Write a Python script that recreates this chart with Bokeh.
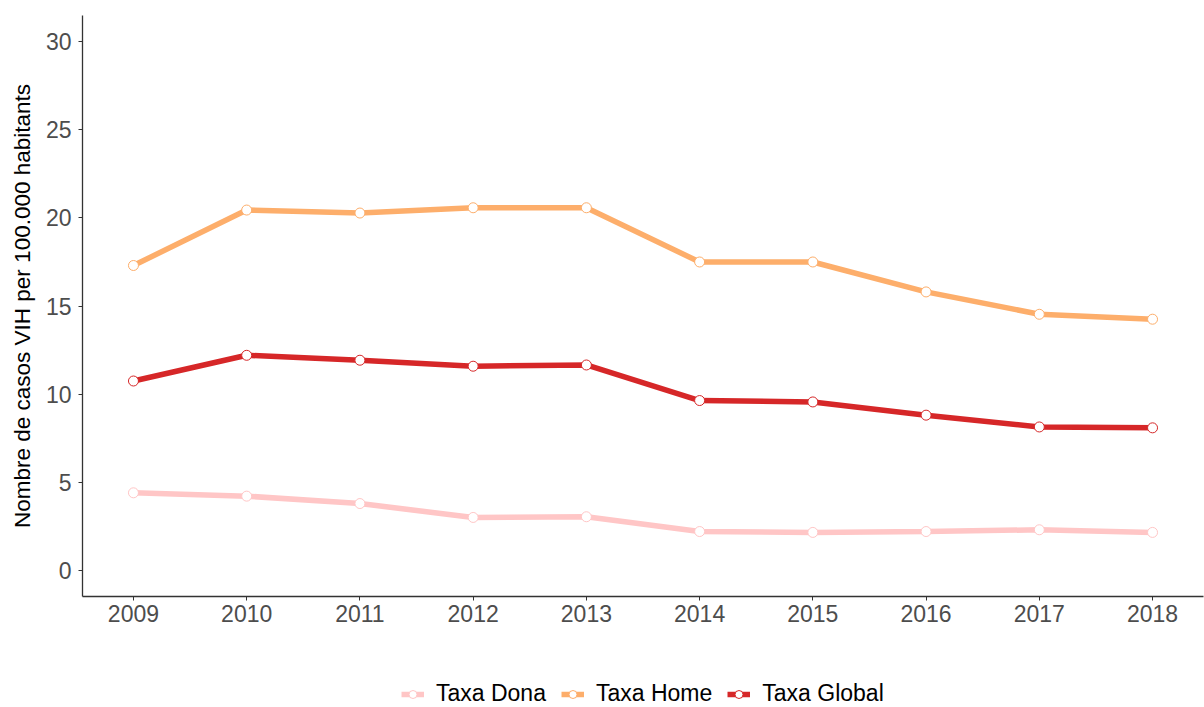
from bokeh.plotting import figure
from bokeh.models import Range1d, FixedTicker, Legend, LegendItem
from bokeh.layouts import column
from bokeh.embed import file_html
from bokeh.resources import INLINE

years = [2009, 2010, 2011, 2012, 2013, 2014, 2015, 2016, 2017, 2018]
taxa_dona = [4.39, 4.20, 3.78, 2.99, 3.03, 2.19, 2.14, 2.19, 2.29, 2.14]
taxa_home = [17.30, 20.45, 20.28, 20.58, 20.58, 17.50, 17.50, 15.80, 14.53, 14.25]
taxa_global = [10.74, 12.20, 11.92, 11.58, 11.65, 9.63, 9.55, 8.80, 8.13, 8.08]
y_ticks = [0, 5, 10, 15, 20, 25, 30]
series_names = ["Taxa Dona", "Taxa Home", "Taxa Global"]
colors = ["#FFC6C6", "#FDAE6B", "#D62728"]

FONT = "Liberation Sans"
LW = 5.5
MS = 10

p = figure(width=1204, height=679, output_backend="svg", toolbar_location=None,
           x_range=Range1d(2008.55, 2018.45), y_range=Range1d(-1.5, 31.5),
           min_border_left=82, min_border_top=15, min_border_right=1,
           min_border_bottom=83)
p.outline_line_color = None
p.xgrid.grid_line_color = None
p.ygrid.grid_line_color = None
p.background_fill_color = "white"

series = [taxa_dona, taxa_home, taxa_global]
for name, vals, col in zip(series_names, series, colors):
    p.line(years, vals, line_color=col, line_width=LW)
    p.scatter(years, vals, size=MS, fill_color="white", line_color=col, line_width=1)

for ax in (p.xaxis[0], p.yaxis[0]):
    ax.axis_line_color = "#333333"
    ax.axis_line_width = 1.3
    ax.major_tick_line_color = "#333333"
    ax.major_tick_out = 4
    ax.major_tick_in = 0
    ax.minor_tick_line_color = None
    ax.major_label_text_font = FONT
    ax.major_label_text_font_size = "23px"
    ax.major_label_text_color = "#4D4D4D"

p.xaxis.ticker = FixedTicker(ticks=years)
p.yaxis.ticker = FixedTicker(ticks=y_ticks)
p.xaxis.major_label_standoff = 4
p.yaxis.major_label_standoff = 7

p.yaxis.axis_label = "Nombre de casos VIH per 100.000 habitants"
p.yaxis.axis_label_text_font = FONT
p.yaxis.axis_label_text_font_size = "22.5px"
p.yaxis.axis_label_text_font_style = "normal"
p.yaxis.axis_label_text_color = "black"
p.yaxis.axis_label_standoff = 8

# legend strip below the chart (series drawn out of view, only the legend shows)
lg = figure(width=1204, height=28, output_backend="svg", toolbar_location=None,
            x_axis_type=None, y_axis_type=None,
            x_range=Range1d(0, 1), y_range=Range1d(0, 1),
            min_border=0, min_border_left=0, min_border_right=0,
            min_border_top=0, min_border_bottom=0)
lg.outline_line_color = None
lg.xgrid.grid_line_color = None
lg.ygrid.grid_line_color = None

items = []
for name, vals, col in zip(series_names, series, colors):
    r1 = lg.line(years, vals, line_color=col, line_width=LW)
    r2 = lg.scatter(years, vals, size=MS, fill_color="white", line_color=col, line_width=1)
    items.append(LegendItem(label=name, renderers=[r1, r2]))

legend = Legend(items=items, orientation="horizontal", location=(319, 0))
legend.label_text_font = FONT
legend.label_text_font_size = "23px"
legend.label_text_color = "black"
legend.glyph_width = 23
legend.glyph_height = 20
legend.label_standoff = 12
legend.spacing = 15
legend.padding = 0
legend.margin = 0
legend.border_line_color = None
legend.background_fill_alpha = 0
lg.add_layout(legend, "center")

layout = column(p, lg, spacing=0)
open("out.html", "w").write(file_html(layout, INLINE))
